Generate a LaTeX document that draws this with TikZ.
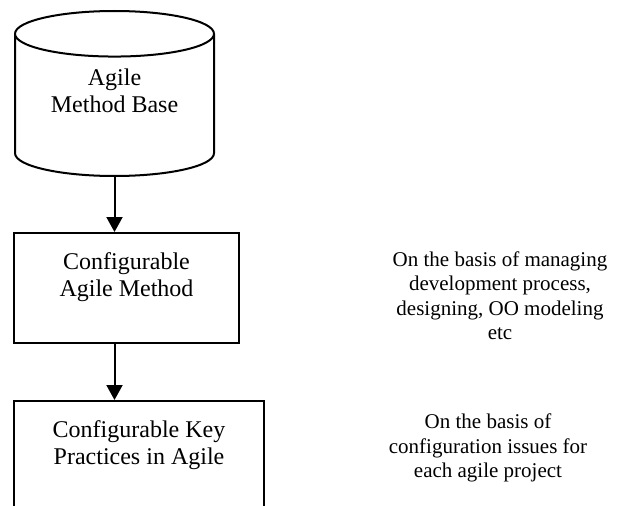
\documentclass[tikz,border=0pt]{standalone}
\usepackage{fontspec}
\setmainfont{Liberation Serif}
\usetikzlibrary{arrows.meta,positioning,shapes.geometric}

\begin{document}
\begin{tikzpicture}[
    x=1pt, y=1pt,
    store/.style={cylinder, draw, line width=2pt, shape border rotate=90, aspect=0.34, minimum width=199pt, minimum height=165pt, align=center, text depth=36pt, font=\fontsize{24}{27}\selectfont},
    block/.style={rectangle, draw, line width=2pt, minimum height=110pt, align=center, font=\fontsize{24}{27}\selectfont},
    note/.style={align=center, font=\fontsize{21}{24.5}\selectfont},
    arrow/.style={-{Triangle[length=15pt, width=16pt]}, line width=2pt},
]
\useasboundingbox (0,0) rectangle (625,-506);
\clip (0,0) rectangle (625,-506);

% Method base
\node[store, anchor=north] (base) at (114.5,-10) {Agile\\Method Base};

% Configuration blocks
\node[block, minimum width=225pt] (method) at (126.5,-288) {Configurable\\Agile Method\\~};
\node[block, minimum width=250pt, anchor=north] (practices) at (139,-400) {Configurable Key\\Practices in Agile\\~};

% Notes
\node[note] (managing) at (500,-295.5) {On the basis of managing\\development process,\\designing, OO modeling\\etc};
\node[note] (issues) at (488,-448) {On the basis of\\configuration issues for\\each agile project};

% Arrows
\draw[arrow] (base.south) -- (base.south |- method.north);
\draw[arrow] (base.south |- method.south) -- (base.south |- practices.north);
\end{tikzpicture}
\end{document}
